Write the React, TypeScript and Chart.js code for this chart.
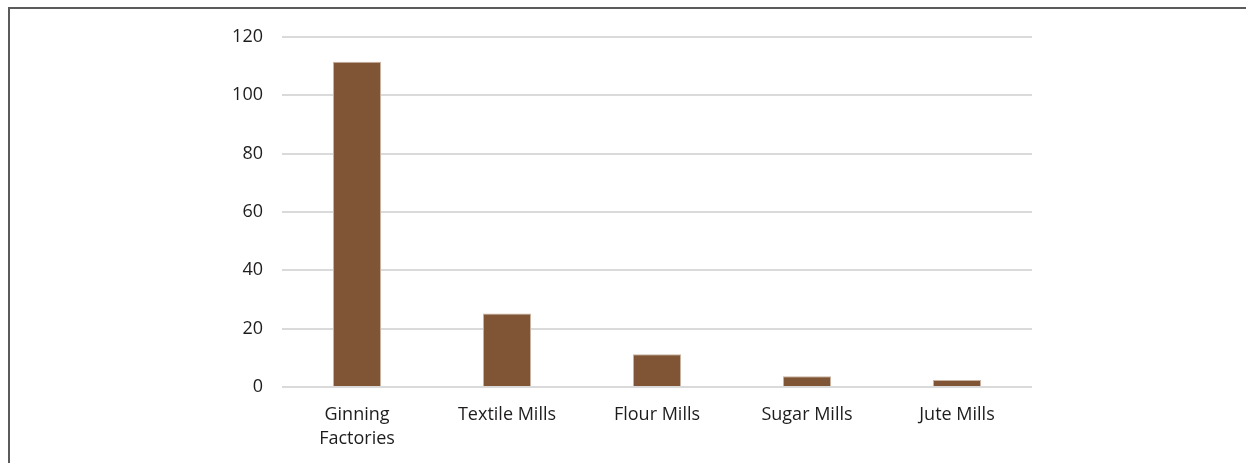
import React, { useEffect, useRef } from "react";
import { Chart, registerables } from "chart.js";

Chart.register(...registerables);

const categories: (string | string[])[] = [["Ginning", "Factories"], "Textile Mills", "Flour Mills", "Sugar Mills", "Jute Mills"];
const values: number[] = [111.5, 25.2, 11.2, 3.7, 2.4];
const yTicks: number[] = [0, 20, 40, 60, 80, 100, 120];

export default function App() {
  const ref = useRef<HTMLCanvasElement | null>(null);
  useEffect(() => {
    if (!ref.current) return;
    const font = { family: "'Open Sans', sans-serif", size: 18, lineHeight: 1.33 };
    const chart = new Chart(ref.current, {
      type: "bar",
      data: {
        labels: categories,
        datasets: [
          {
            data: values,
            backgroundColor: "#7f5536",
            borderColor: "#c9b3a0",
            borderWidth: 1,
            categoryPercentage: 1,
            barPercentage: 0.32,
          },
        ],
      },
      options: {
        animation: false,
        responsive: false,
        maintainAspectRatio: false,
        layout: { padding: { left: 0, right: 214, top: 37, bottom: 0 } },
        plugins: { legend: { display: false }, tooltip: { enabled: false } },
        scales: {
          x: {
            grid: { display: false, drawTicks: false },
            border: { display: false },
            ticks: { color: "#1f1c1d", font, padding: 16, maxRotation: 0, autoSkip: false },
            afterFit: (s: any) => { s.height = 76; },
          },
          y: {
            min: 0,
            max: 120,
            afterBuildTicks: (s: any) => { s.ticks = yTicks.map((v) => ({ value: v })); },
            grid: { color: "#dadada", lineWidth: 2, drawTicks: false },
            border: { display: false },
            ticks: { color: "#1f1c1d", font, padding: 19 },
            afterFit: (s: any) => { s.width = 282; },
          },
        },
      },
    });
    return () => chart.destroy();
  }, []);
  return (
    <div style={{ position: "absolute", left: 0, top: 0, width: 1246, height: 463, overflow: "hidden", background: "#fff" }}>
      <div style={{ position: "absolute", left: 8, top: 7, width: 1246, height: 470, borderLeft: "2px solid #5b5b5b", borderTop: "2px solid #5b5b5b" }} />
      <canvas ref={ref} width={1246} height={463} style={{ position: "absolute", left: 0, top: 0 }} />
    </div>
  );
}
